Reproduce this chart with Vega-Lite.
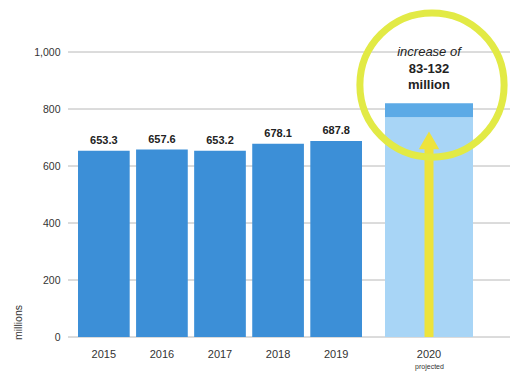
{
  "$schema": "https://vega.github.io/schema/vega-lite/v6.json",
  "width": 442,
  "height": 285,
  "autosize": {"type": "none"},
  "padding": {"left": 68, "top": 52, "right": 17, "bottom": 37},
  "background": "white",
  "config": {
    "view": {"stroke": null},
    "font": "Liberation Sans",
    "axis": {"labelFont": "Liberation Sans", "titleFont": "Liberation Sans", "labelColor": "#333", "titleColor": "#333"}
  },
  "datasets": {
    "past": [
      {"year": "2015", "value": 653.3},
      {"year": "2016", "value": 657.6},
      {"year": "2017", "value": 653.2},
      {"year": "2018", "value": 678.1},
      {"year": "2019", "value": 687.8}
    ],
    "proj": [
      {"year": "2020", "part": "low", "from": 0, "to": 770.8},
      {"year": "2020", "part": "range", "from": 770.8, "to": 819.8}
    ],
    "grid": [
      {"value": 0}, {"value": 200}, {"value": 400}, {"value": 600}, {"value": 800}, {"value": 1000}
    ]
  },
  "encoding": {
    "y": {
      "type": "quantitative",
      "scale": {"domain": [0, 1000], "nice": false},
      "axis": {
        "title": "millions",
        "titleFontSize": 10.5,
        "titleFontWeight": "normal",
        "titleX": -45,
        "titleY": 270,
        "titleAlign": "center",
        "values": [0, 200, 400, 600, 800, 1000],
        "format": ",.0f",
        "labelFontSize": 10.5,
        "labelPadding": 8,
        "ticks": false,
        "domain": false,
        "grid": false
      }
    }
  },
  "layer": [
    {
      "data": {"name": "grid"},
      "mark": {"type": "rule", "color": "#b8b8b8", "strokeWidth": 1},
      "encoding": {"y": {"field": "value"}}
    },
    {
      "data": {"name": "past"},
      "encoding": {
        "x": {
          "field": "year",
          "type": "nominal",
          "scale": {"range": [10, 294], "paddingInner": 0.11, "paddingOuter": 0},
          "axis": {"title": null, "labelAngle": 0, "labelFontSize": 11, "labelPadding": 11, "ticks": false, "domain": false, "grid": false, "orient": "bottom"}
        }
      },
      "layer": [
        {"mark": {"type": "bar", "color": "#3c8fd7"}, "encoding": {"y": {"field": "value"}}},
        {
          "mark": {"type": "text", "fontWeight": "bold", "fontSize": 11, "dy": -10, "color": "#222"},
          "encoding": {"y": {"field": "value"}, "text": {"field": "value", "format": ".1f"}}
        }
      ]
    },
    {
      "encoding": {
        "x": {
          "field": "year",
          "type": "nominal",
          "scale": {"domain": ["2020"], "range": [317, 405], "paddingInner": 0, "paddingOuter": 0},
          "axis": {"title": "projected", "titleFontSize": 7, "titleFontWeight": "normal", "titlePadding": 3, "labelAngle": 0, "labelFontSize": 11, "labelPadding": 11, "ticks": false, "domain": false, "grid": false, "orient": "bottom"}
        }
      },
      "layer": [
        {
          "data": {"name": "proj"},
          "mark": {"type": "bar"},
          "encoding": {
            "y": {"field": "from"},
            "y2": {"field": "to"},
            "color": {"field": "part", "type": "nominal", "scale": {"domain": ["low", "range"], "range": ["#a8d5f6", "#5caae6"]}, "legend": null}
          }
        },
        {
          "data": {"values": [{"year": "2020", "from": 0, "to": 670}]},
          "mark": {"type": "rule", "color": "#ede33c", "strokeWidth": 9},
          "encoding": {"y": {"field": "from"}, "y2": {"field": "to"}}
        },
        {
          "data": {"values": [{"year": "2020", "value": 690}]},
          "mark": {"type": "point", "shape": "triangle-up", "filled": true, "color": "#ede33c", "size": 420, "opacity": 1},
          "encoding": {"y": {"field": "value"}}
        },
        {
          "data": {"values": [{"year": "2020", "value": 884}]},
          "mark": {"type": "point", "shape": "circle", "filled": false, "stroke": "#e2ea45", "strokeWidth": 7, "size": 20800, "opacity": 1, "xOffset": 3},
          "encoding": {"y": {"field": "value"}}
        },
        {
          "data": {"values": [{"year": "2020", "value": 1000, "label": "increase of"}]},
          "mark": {"type": "text", "fontStyle": "italic", "fontSize": 13, "color": "#222"},
          "encoding": {"y": {"field": "value"}, "text": {"field": "label"}}
        },
        {
          "data": {"values": [{"year": "2020", "value": 940, "label": "83-132"}, {"year": "2020", "value": 884, "label": "million"}]},
          "mark": {"type": "text", "fontWeight": "bold", "fontSize": 13, "color": "#222"},
          "encoding": {"y": {"field": "value"}, "text": {"field": "label"}}
        }
      ]
    }
  ],
  "resolve": {"scale": {"x": "independent"}, "axis": {"x": "independent"}}
}
